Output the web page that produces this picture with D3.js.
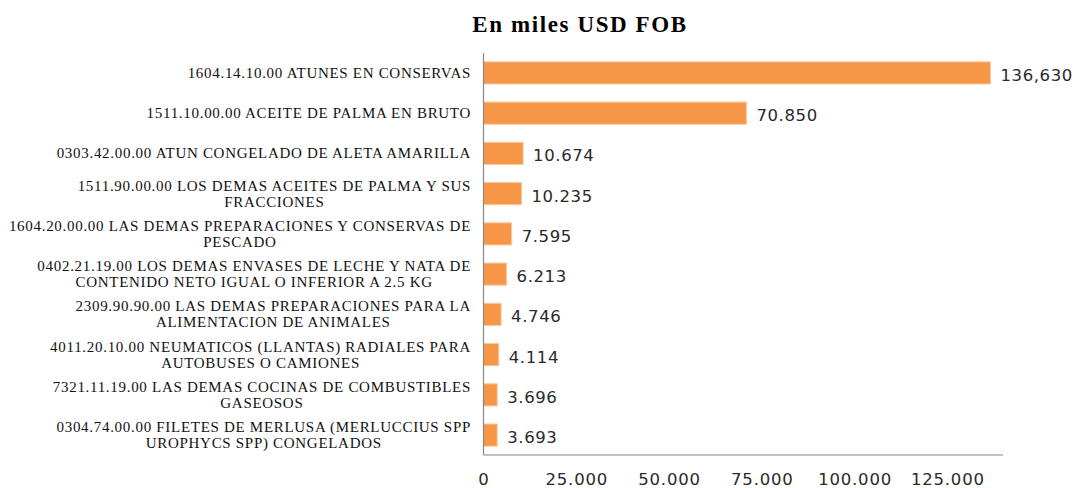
<!DOCTYPE html>
<html>
<head>
<meta charset="utf-8">
<script src="https://cdn.jsdelivr.net/npm/d3@7"></script>
<style>
  body { margin: 0; background: #fff; }
</style>
</head>
<body>
<div id="chart"></div>
<script>

// categories, each one split in the lines it shows
var categories = [
	["1604.14.10.00 ATUNES EN CONSERVAS"],
	["1511.10.00.00 ACEITE DE PALMA EN BRUTO"],
	["0303.42.00.00 ATUN CONGELADO DE ALETA AMARILLA"],
	["1511.90.00.00 LOS DEMAS ACEITES DE PALMA Y SUS", "FRACCIONES"],
	["1604.20.00.00 LAS DEMAS PREPARACIONES Y CONSERVAS DE", "PESCADO"],
	["0402.21.19.00 LOS DEMAS ENVASES DE LECHE Y NATA DE", "CONTENIDO NETO IGUAL O INFERIOR A 2.5 KG"],
	["2309.90.90.00 LAS DEMAS PREPARACIONES PARA LA", "ALIMENTACION DE ANIMALES"],
	["4011.20.10.00 NEUMATICOS (LLANTAS) RADIALES PARA", "AUTOBUSES O CAMIONES"],
	["7321.11.19.00 LAS DEMAS COCINAS DE COMBUSTIBLES", "GASEOSOS"],
	["0304.74.00.00 FILETES DE MERLUSA (MERLUCCIUS SPP", "UROPHYCS SPP) CONGELADOS"]
];

var values = [136630, 70850, 10674, 10235, 7595, 6213, 4746, 4114, 3696, 3693];

var valueLabels = ["136,630", "70.850", "10.674", "10.235", "7.595", "6.213", "4.746", "4.114", "3.696", "3.693"];

var ticks = [0, 25000, 50000, 75000, 100000, 125000];
var tickLabels = ["0", "25.000", "50.000", "75.000", "100.000", "125.000"];

var title = "En miles USD FOB";


var width = 1077;
var height = 488;
var plotLeft = 483.5;
var plotRight = 1003;
var plotTop = 53;
var plotBottom = 455;
var color = '#F79646';

var svg = d3.select('#chart')
		.append('svg')
		.attr('width', width)
		.attr('height', height);

var x = d3.scaleLinear()
		.domain([0, 140000])
		.range([plotLeft, plotRight]);

var y = d3.scaleBand()
		.domain(d3.range(categories.length))
		.range([plotTop, plotBottom])
		.paddingInner(0.45)
		.paddingOuter(0.22);

// Title
svg.append('text')
		.attr('x', 580)
		.attr('y', 32)
		.attr('font-family', 'Liberation Serif')
		.attr('font-size', '23px')
		.attr('font-weight', 'bold')
		.attr('letter-spacing', '1.6px')
		.attr('fill', '#000')
		.attr('text-anchor', 'middle')
		.text(title);

// Bars
svg.selectAll('rect.bar')
		.data(values)
		.enter()
		.append('rect')
		.attr('class', 'bar')
		.attr('x', x(0))
		.attr('y', function (d, i) { return y(i); })
		.attr('width', function (d) { return x(d) - x(0); })
		.attr('height', y.bandwidth())
		// style
		.attr('fill', color)
		.attr('stroke', '#FAC7A0')
		.attr('stroke-width', 1);

// Value labels
svg.selectAll('text.value')
		.data(values)
		.enter()
		.append('text')
		.attr('class', 'value')
		.attr('x', function (d) { return x(d) + 10; })
		.attr('y', function (d, i) { return y(i) + y.bandwidth() / 2 + 8; })
		.attr('font-family', 'DejaVu Sans')
		.attr('font-size', '16.5px')
		.attr('letter-spacing', '0.6px')
		.attr('fill', '#2a2a2a')
		.text(function (d, i) { return valueLabels[i]; });

// Frame: left and bottom lines
svg.append('line')
		.attr('x1', plotLeft)
		.attr('y1', plotTop)
		.attr('x2', plotLeft)
		.attr('y2', plotBottom)
		.attr('stroke', '#888')
		.attr('stroke-width', 1.2);

svg.append('line')
		.attr('x1', plotLeft)
		.attr('y1', plotBottom)
		.attr('x2', plotRight)
		.attr('y2', plotBottom)
		.attr('stroke', '#888')
		.attr('stroke-width', 1.2);

// X axis labels
var xAxis = d3.axisBottom(x)
		.tickValues(ticks)
		.tickSize(0)
		.tickPadding(0)
		.tickFormat(function (d, i) { return tickLabels[i]; });

var gx = svg.append('g')
		.attr('transform', 'translate(0,' + (plotBottom + 18) + ')')
		.call(xAxis);

gx.select('.domain').remove();
gx.selectAll('text')
		.attr('font-family', 'DejaVu Sans')
		.attr('font-size', '16.5px')
		.attr('letter-spacing', '0.8px')
		.attr('fill', '#2a2a2a');

// Category labels
var labelRight = 471;
var lineGap = 16;

categories.forEach(function (lines, i) {
	var cy = y(i) + y.bandwidth() / 2;
	var g = svg.append('g');
	var first = g.append('text')
			.attr('x', labelRight)
			.attr('y', cy - (lines.length - 1) * lineGap / 2 + 5)
			.attr('font-family', 'Liberation Serif')
			.attr('font-size', '15px')
			.attr('letter-spacing', '0.7px')
			.attr('fill', '#111')
			.attr('text-anchor', 'end')
			.text(lines[0]);
	if (lines.length > 1) {
		var w = first.node().getComputedTextLength();
		g.append('text')
				.attr('x', labelRight - w / 2)
				.attr('y', cy - (lines.length - 1) * lineGap / 2 + 5 + lineGap)
				.attr('font-family', 'Liberation Serif')
				.attr('font-size', '15px')
				.attr('letter-spacing', '0.7px')
				.attr('fill', '#111')
				.attr('text-anchor', 'middle')
				.text(lines[1]);
	}
});

</script>
</body>
</html>
